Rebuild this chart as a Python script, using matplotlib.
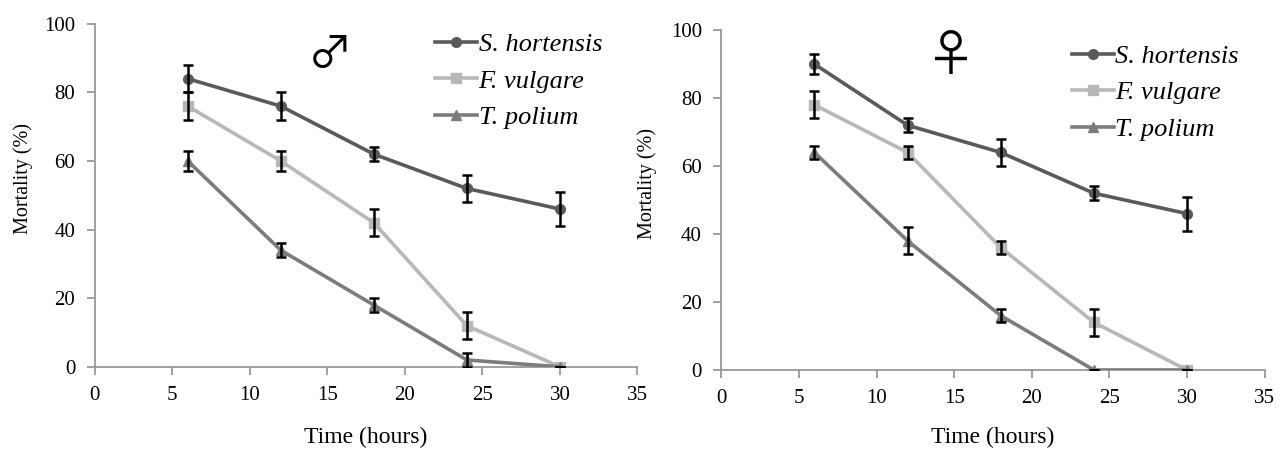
import numpy as np
import matplotlib
matplotlib.use("Agg")
import matplotlib.pyplot as plt

plt.rcParams['font.family'] = ['Liberation Serif', 'DejaVu Serif']

hours = [6, 12, 18, 24, 30]
species = ["S. hortensis", "F. vulgare", "T. polium"]

# male
male_sh = [84, 76, 62, 52, 46]
male_sh_err = [4, 4, 2, 4, 5]
male_fv = [76, 60, 42, 12, 0]
male_fv_err = [4, 3, 4, 4, 0]
male_tp = [60, 34, 18, 2, 0]
male_tp_err = [3, 2, 2, 2, 0]

# female
fem_sh = [90, 72, 64, 52, 46]
fem_sh_err = [3, 2, 4, 2, 5]
fem_fv = [78, 64, 36, 14, 0]
fem_fv_err = [4, 2, 2, 4, 0]
fem_tp = [64, 38, 16, 0, 0]
fem_tp_err = [2, 4, 2, 0, 0]

colors = ['#5a5a5a', '#b8b8b8', '#7c7c7c']
markers = ['o', 's', '^']
axis_gray = '#999999'

fig = plt.figure(figsize=(12.8, 4.49), dpi=100)
ax1 = fig.add_axes([0.074, 0.183, 0.424, 0.764])
ax2 = fig.add_axes([0.5635, 0.176, 0.4245, 0.757])


def draw(ax, vals, errs, symbol, sym_size, sym_x, sym_y, leg_x, leg_y, ylab_x, xlab_y):
    for v, e, c, m, name in zip(vals, errs, colors, markers, species):
        ax.plot(hours, v, color=c, marker=m, markersize=7, linewidth=2.6, label=name, zorder=3)
        ax.errorbar(hours, v, yerr=e, fmt='none', ecolor='black', elinewidth=1.8,
                    capsize=3.5, capthick=1.8, zorder=4)
    ax.set_xlim(0, 35)
    ax.set_ylim(0, 100)
    ax.set_xticks(range(0, 36, 5))
    ax.set_yticks(range(0, 101, 20))
    for s in ['top', 'right']:
        ax.spines[s].set_visible(False)
    for s in ['left', 'bottom']:
        ax.spines[s].set_color(axis_gray)
        ax.spines[s].set_linewidth(1.3)
    ax.tick_params(colors=axis_gray, labelcolor='black', labelsize=15, length=6, width=1.3)
    ax.tick_params(axis='y', pad=8)
    ax.tick_params(axis='x', pad=8)
    ax.set_ylabel("Mortality (%)", fontsize=14.5)
    ax.yaxis.set_label_coords(ylab_x, 0.55)
    ax.set_xlabel("Time (hours)", fontsize=17)
    ax.xaxis.set_label_coords(0.5, xlab_y)
    ax.legend(loc='upper left', bbox_to_anchor=(leg_x, leg_y), frameon=False,
              borderaxespad=0, borderpad=0,
              prop={'style': 'italic', 'size': 19}, handlelength=1.6,
              handletextpad=0.05, labelspacing=0.5)
    ax.text(sym_x, sym_y, symbol, fontsize=sym_size, family=['Noto Sans CJK JP', 'DejaVu Sans'],
            ha='center', va='center', transform=ax.transData)


draw(ax1, [male_sh, male_fv, male_tp], [male_sh_err, male_fv_err, male_tp_err],
     '♂', 32, 15.2, 91, 0.627, 0.975, -0.114, -0.176)
draw(ax2, [fem_sh, fem_fv, fem_tp], [fem_sh_err, fem_fv_err, fem_tp_err],
     '♀', 36, 14.8, 92, 0.645, 0.958, -0.119, -0.168)

fig.savefig("out.png", dpi=100)
